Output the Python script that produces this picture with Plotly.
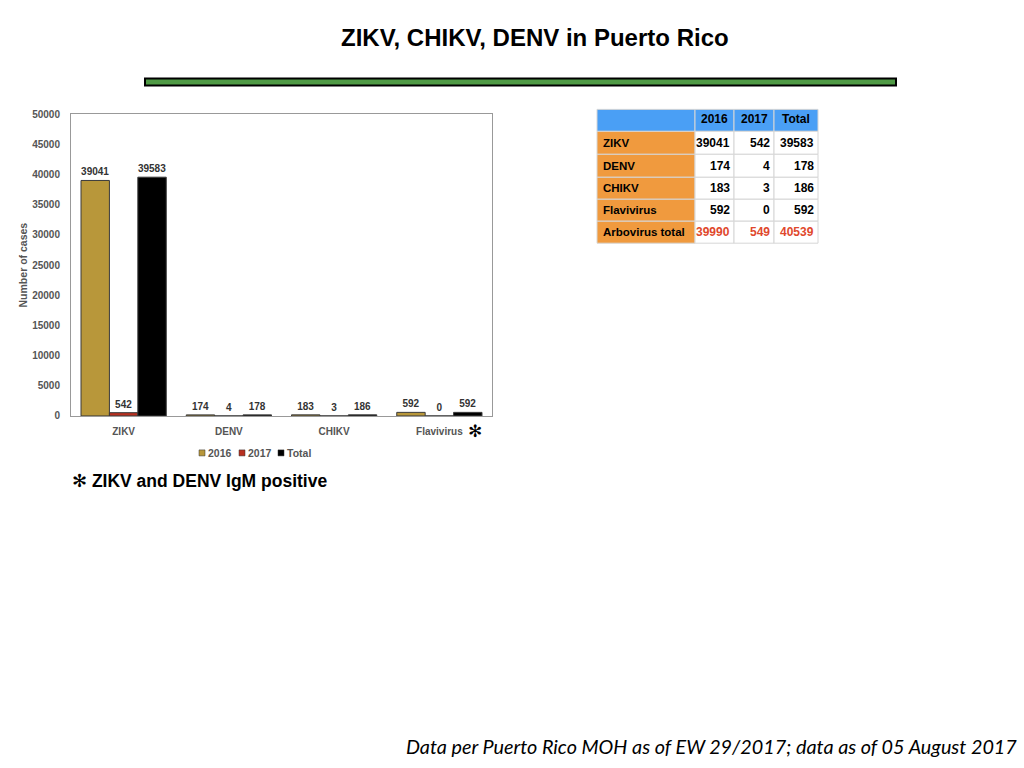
import plotly.graph_objects as go

W, H = 1024, 768

# chart data
viruses = ["ZIKV", "DENV", "CHIKV", "Flavivirus"]
cases_2016 = [39041, 174, 183, 592]
cases_2017 = [542, 4, 3, 0]
cases_total = [39583, 178, 186, 592]

# table data
table_header = ["", "2016", "2017", "Total"]
table_rows = ["ZIKV", "DENV", "CHIKV", "Flavivirus", "Arbovirus total"]
table_2016 = [39041, 174, 183, 592, 39990]
table_2017 = [542, 4, 3, 0, 549]
table_total = [39583, 178, 186, 592, 40539]

gold = "#b8973a"
red = "#b8301f"
gray_txt = "#555555"
blue_hdr = "#4a9ff5"
orange = "#f09a3e"
red_txt = "#e0482c"


def px(x):
    return x / W


def py(y):
    # the screenshot comes out slightly squashed vertically, compensate
    return 1 - ((y - 4.5) / 0.987) / H


fig = go.Figure()

for name, vals, col in [("2016", cases_2016, gold), ("2017", cases_2017, red), ("Total", cases_total, "black")]:
    fig.add_trace(go.Bar(
        x=viruses, y=vals, name=name,
        marker=dict(color=col, line=dict(color="#3a3a3a", width=1)),
        text=[str(v) for v in vals], textposition="outside",
        textfont=dict(size=10, color="#333333", family="Liberation Sans", weight="bold"),
        cliponaxis=False, showlegend=False,
    ))

shapes = []
annotations = []

# table drawn as paper shapes + text
col_edges = [597, 695, 734, 774, 818]
row_edges = [109, 131, 154, 177, 199, 221, 243]
num_cols = [table_2016, table_2017, table_total]
num_font = dict(size=12, family="Liberation Sans Narrow, Liberation Sans", weight="bold")
for r in range(len(row_edges) - 1):
    y0, y1 = row_edges[r], row_edges[r + 1]
    ym = (y0 + y1) / 2
    for c in range(len(col_edges) - 1):
        x0, x1 = col_edges[c], col_edges[c + 1]
        if r == 0:
            fill = blue_hdr
        elif c == 0:
            fill = orange
        else:
            fill = "white"
        shapes.append(dict(type="rect", xref="paper", yref="paper",
                           x0=px(x0), x1=px(x1), y0=py(y1), y1=py(y0),
                           fillcolor=fill, line=dict(color="#d6d6d6", width=1), layer="below"))
        if r == 0:
            if table_header[c]:
                annotations.append(dict(text=table_header[c], xref="paper", yref="paper",
                                        x=px((x0 + x1) / 2), y=py(ym - 1), xanchor="center", yanchor="middle",
                                        showarrow=False, font=dict(num_font, color="black")))
        elif c == 0:
            annotations.append(dict(text=table_rows[r - 1], xref="paper", yref="paper",
                                    x=px(x0 + 4), y=py(ym), xanchor="left", yanchor="middle",
                                    showarrow=False,
                                    font=dict(size=11.5, family="Liberation Sans", weight="bold", color="black")))
        else:
            last = r == len(row_edges) - 2
            annotations.append(dict(text=str(num_cols[c - 1][r - 1]), xref="paper", yref="paper",
                                    x=px(x1 - 2), y=py(ym), xanchor="right", yanchor="middle",
                                    showarrow=False,
                                    font=dict(num_font, color=red_txt if last else "black")))

# manual legend
legend_items = [("2016", gold, 199), ("2017", red, 239), ("Total", "black", 278)]
for label, col, x0 in legend_items:
    shapes.append(dict(type="rect", xref="paper", yref="paper",
                       x0=px(x0), x1=px(x0 + 6), y0=py(456), y1=py(450),
                       fillcolor=col, line=dict(color="#333", width=0.5)))
    annotations.append(dict(text=label, xref="paper", yref="paper", x=px(x0 + 7), y=py(453),
                            xanchor="left", yanchor="middle", showarrow=False,
                            font=dict(size=10.5, color=gray_txt, family="Liberation Sans", weight="bold")))

# green rule under the title
shapes.append(dict(type="rect", xref="paper", yref="paper",
                   x0=px(145), x1=px(896), y0=py(85), y1=py(78),
                   fillcolor="#4f9a45", line=dict(color="black", width=2)))

annotations += [
    dict(text="<b>ZIKV, CHIKV, DENV in Puerto Rico</b>", xref="paper", yref="paper",
         x=px(535), y=py(37), xanchor="center", yanchor="middle", showarrow=False,
         font=dict(size=24, color="black", family="Liberation Sans")),
    dict(text="✻", xref="paper", yref="paper", x=px(475), y=py(431),
         xanchor="center", yanchor="middle", showarrow=False,
         font=dict(size=17, color="black", family="DejaVu Sans", weight="bold")),
    dict(text="✻ <b>ZIKV and DENV IgM positive</b>", xref="paper", yref="paper",
         x=px(70), y=py(481), xanchor="left", yanchor="middle", showarrow=False,
         font=dict(size=17.5, color="black", family="Liberation Sans")),
    dict(text="<i>Data per Puerto Rico MOH as of EW 29/2017; data as of 05 August 2017</i>",
         xref="paper", yref="paper", x=px(1018.5), y=py(746), xanchor="right", yanchor="middle",
         showarrow=False, font=dict(size=19.8, color="black", family="Lato")),
]

axis_font = dict(size=10, color=gray_txt, family="Liberation Sans", weight="bold")
fig.update_layout(
    width=W, height=H, margin=dict(l=0, r=0, t=0, b=0),
    paper_bgcolor="white", plot_bgcolor="white",
    barmode="group", bargap=0.19, bargroupgap=0,
    shapes=shapes, annotations=annotations,
    xaxis=dict(domain=[px(71), px(492)], showline=True, linecolor="#999", mirror=True,
               ticks="", tickfont=axis_font, showgrid=False, ticklabelstandoff=6),
    yaxis=dict(domain=[py(416), py(114)], range=[0, 50000], dtick=5000, tickformat="d",
               showline=True, linecolor="#999", mirror=True, showgrid=False, zeroline=False,
               ticks="", tickfont=axis_font, ticklabelstandoff=8,
               title=dict(text="Number of cases", font=dict(axis_font, size=10.5), standoff=2)),
)

pin = ("var d=document.getElementById('{plot_id}');"
       "d.style.position='fixed';d.style.top='0';d.style.left='0';"
       "document.body.style.margin='0';document.documentElement.style.overflow='hidden';")
fig.write_html("out.html", config={"displayModeBar": False}, post_script=pin)
